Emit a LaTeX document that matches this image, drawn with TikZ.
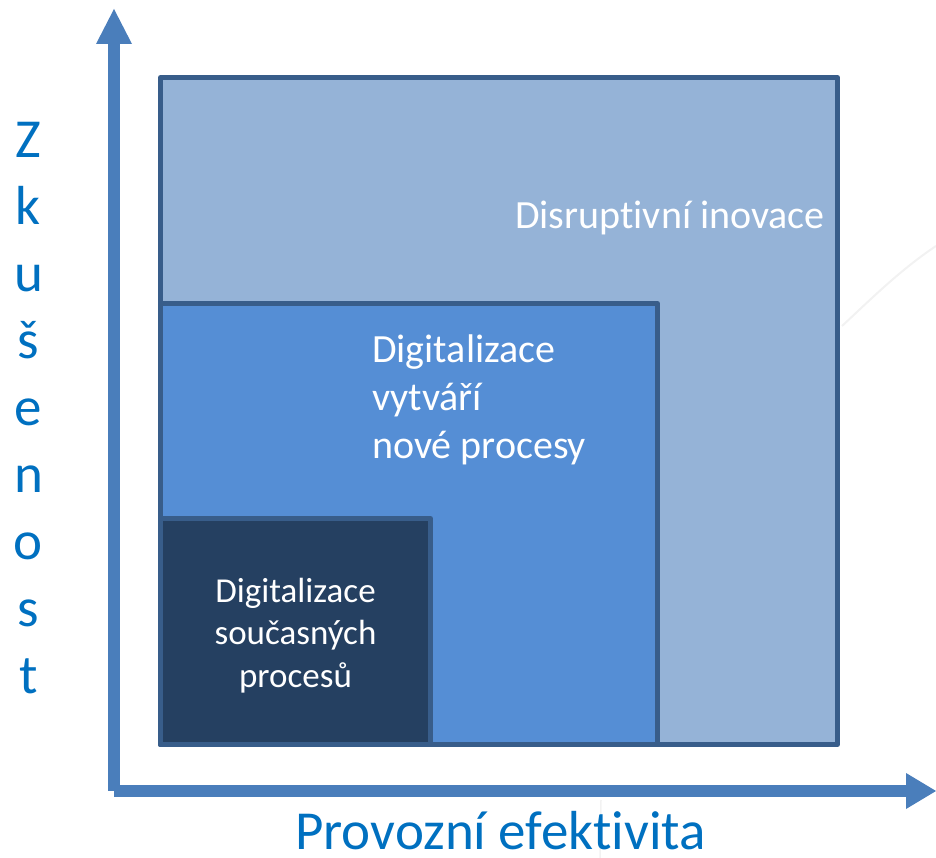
\documentclass[tikz,border=0pt]{standalone}
\usepackage{fontspec}
\setmainfont{Carlito}[Ligatures=NoCommon]
\usetikzlibrary{calc}
\definecolor{outerfill}{HTML}{95B3D7}
\definecolor{midfill}{HTML}{558ED5}
\definecolor{innerfill}{HTML}{254061}
\definecolor{boxline}{HTML}{385D8A}
\definecolor{axisblue}{HTML}{4A7EBB}
\definecolor{labelblue}{HTML}{0070C0}
\definecolor{faint}{HTML}{F2F2F2}
\tikzset{
  layerbox/.style={draw=boxline, line width=5pt, line join=round},
  axisshaft/.style={fill=axisblue, draw=none},
  boxtext/.style={text=white, inner sep=0pt},
  axislabel/.style={text=labelblue, inner sep=0pt, font=\fontsize{55}{67}\selectfont},
}
\begin{document}
\begin{tikzpicture}[x=1pt,y=-1pt]
\useasboundingbox (0,0) rectangle (936,858);
% faint background arcs
\draw[faint, line width=2pt] (842,326) .. controls (870,300) and (900,270) .. (936,246);
\draw[faint, line width=1.5pt] (601,800) -- (600,858);
% layered boxes
\draw[layerbox, fill=outerfill] (160.5,77.5) rectangle (837.5,744.5);
\draw[layerbox, fill=midfill] (160.5,303.5) rectangle (657.5,744.5);
\draw[layerbox, fill=innerfill] (160.5,518.5) rectangle (430.5,744.5);
% box texts (base anchor = baseline of last line)
\node[boxtext, anchor=base west, font=\fontsize{40}{48}\selectfont] (disr) at (515,229) {Disruptivní inovace};
\node[boxtext, anchor=base west, align=left, font=\fontsize{40}{48}\selectfont] (newproc) at (372,458) {Digitalizace\\vytváří\\nové procesy};
\node[boxtext, anchor=base, align=center, font=\fontsize{35}{42.5}\selectfont] (curproc) at (295.5,687) {Digitalizace\\současných\\procesů};
% axes
\coordinate (ytip) at (114,9);
\coordinate (xtip) at (936,791);
\fill[axisshaft] (108,791) rectangle (120,43);
\fill[axisshaft] ($(ytip)+(-18,35)$) -- (ytip) -- ($(ytip)+(18,35)$) -- cycle;
\fill[axisshaft] (114,785) rectangle (907,797);
\fill[axisshaft] ($(xtip)+(-30,-18)$) -- (xtip) -- ($(xtip)+(-30,18)$) -- cycle;
% axis labels
\node[axislabel, anchor=base west] (xlabel) at (295,849) {Provozní efektivita};
\node[axislabel, anchor=base, align=center] (ylabel) at (28.5,693) {Z\\k\\u\\š\\e\\n\\o\\s\\t};
\end{tikzpicture}
\end{document}
